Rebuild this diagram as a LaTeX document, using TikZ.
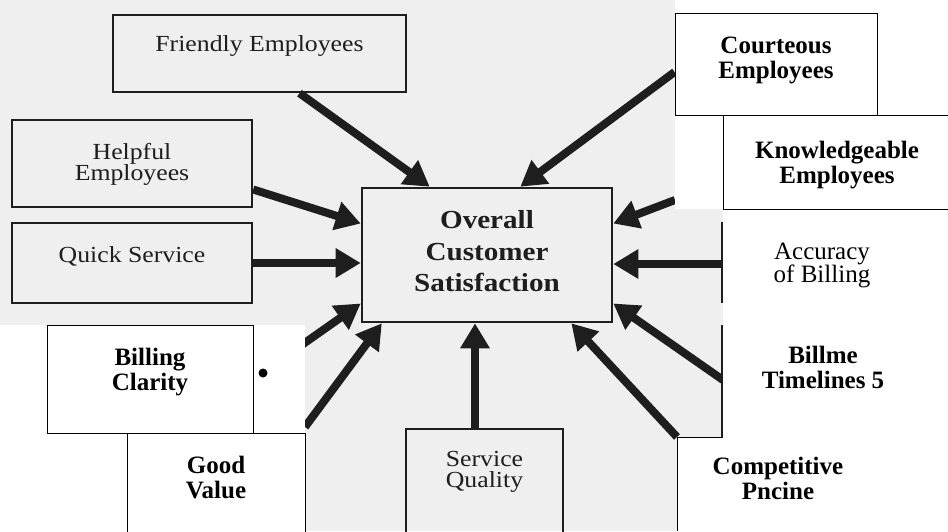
\documentclass[tikz,border=0pt]{standalone}
\usepackage{fontspec}
\setmainfont{Liberation Serif}
\newfontfamily\scanfont[FakeStretch=1.12]{Liberation Serif}
\usetikzlibrary{arrows.meta}
\pgfdeclarelayer{background}
\pgfsetlayers{background,main}
\definecolor{scanbg}{HTML}{EFEFEF}
\definecolor{scanink}{HTML}{1E1E1E}

\tikzset{
  scanbox/.style={draw=scanink, line width=2.4pt, inner sep=0pt, align=center,
    text=scanink, font=\scanfont\fontsize{23}{21}\selectfont},
  pastebox/.style={draw=black, line width=0.9pt, fill=white, inner sep=0pt,
    align=center, font=\bfseries\fontsize{25}{25}\selectfont},
  pastetext/.style={inner sep=0pt, align=center, font=\bfseries\fontsize{25}{25}\selectfont},
  push/.style={draw=scanink, line width=8pt, -{Triangle[length=25pt,width=28pt]}},
}

\begin{document}
\begin{tikzpicture}[x=1pt,y=-1pt]
  \useasboundingbox (0,0) rectangle (948,531);
  \clip (0,0) rectangle (948,531);

  % white paper round the pasted boxes
  \fill[white] (675,0) -- (948,0) -- (948,531) -- (677,531) -- (677,437)
    -- (723,437) -- (723,209) -- (675,209) -- cycle;
  \fill[white] (0,325) rectangle (305,531);
  \draw[line width=0.9pt] (677,531) -- (677,437) -- (723,437);

  % scanned boxes
  \node[scanbox, minimum width=293pt, minimum height=77pt, text depth=19pt]
    (friendly) at (259.5,53.5) {Friendly Employees};
  \node[scanbox, minimum width=240pt, minimum height=87pt, text depth=3pt]
    (helpful) at (132,163.5) {Helpful\\Employees};
  \node[scanbox, minimum width=240pt, minimum height=80pt, text depth=16pt]
    (quick) at (132,263) {Quick Service};
  \node[scanbox, line width=2.6pt, minimum width=250pt, minimum height=134pt,
    text depth=8pt, font=\scanfont\bfseries\fontsize{26}{31.5}\selectfont]
    (ocs) at (487,255) {Overall\\Customer\\Satisfaction};
  \node[scanbox, minimum width=157pt, minimum height=160pt, text depth=80pt]
    (service) at (484.5,509) {Service\\Quality};

  % pasted boxes
  \node[pastebox, minimum width=202pt, minimum height=102pt, text depth=13pt]
    (courteous) at (776,64) {Courteous\\Employees};
  \node[pastebox, minimum width=228pt, minimum height=94pt, text depth=0pt]
    (knowledge) at (837,162) {Knowledgeable\\Employees};
  \node[pastebox, minimum width=206pt, minimum height=108pt, text depth=19pt]
    (billing) at (150,379) {Billing\\Clarity};
  \node[pastebox, minimum width=178pt, minimum height=127pt, text depth=38pt]
    (goodvalue) at (216,496.5) {Good\\Value};
  \node[pastetext, font=\fontsize{25}{23}\selectfont]
    (accuracy) at (822,265.5) {Accuracy\\of Billing};
  \node[pastetext] (billme) at (823,367) {Billme\\Timelines 5};
  \node[pastetext] (competitive) at (778,478) {Competitive\\Pncine};
  \fill (263,373) circle (4.5pt);

  % where the arrows come out from under the paper
  \coordinate (knowledge tail) at (675,200);
  \coordinate (accuracy tail) at (723,264);
  \coordinate (billme tail) at (723,380);
  \coordinate (competitive tail) at (677,437);
  \coordinate (goodvalue tail) at (305,427);
  \coordinate (service tail) at ([xshift=-9.5pt]service.north);

  \begin{pgfonlayer}{background}
    \fill[scanbg] (0,0) rectangle (948,531);
    % edges of the old boxes on the right
    \draw[scanink, line width=2.4pt] (722,222) -- (722,303) (722,325) -- (722,437);
    \draw[push] ([xshift=40pt]friendly.south) -- (ocs.130);
    \draw[push] ([yshift=-26pt]helpful.east) -- (ocs.166);
    \draw[push] (quick.east) -- (quick.east -| ocs.west);
    \draw[push] (billing.east) -- (ocs.201);
    \draw[push] (goodvalue tail) -- (ocs.213);
    \draw[push] (service tail) -- (service tail |- ocs.south);
    \draw[push] (competitive tail) -- (ocs.321);
    \draw[push] (billme tail) -- (ocs.339);
    \draw[push] (accuracy tail) -- (accuracy tail -| ocs.east);
    \draw[push] (knowledge tail) -- (ocs.14);
    \draw[push] ([yshift=-8pt]courteous.west) -- (ocs.64);
  \end{pgfonlayer}
\end{tikzpicture}
\end{document}
